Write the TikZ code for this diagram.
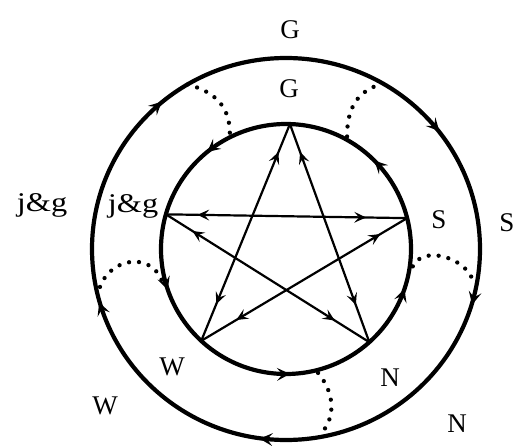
\documentclass[tikz,border=0pt]{standalone}
\usepackage{fontspec}
\setmainfont{Liberation Serif}
\usetikzlibrary{arrows.meta,decorations.markings,calc}
\begin{document}
\begin{tikzpicture}[x=1pt,y=1pt,
  lbl/.style={font=\fontsize{27}{30}\selectfont, inner sep=0pt},
  ring/.style={line width=4.2pt},
  chord/.style={line width=2.2pt},
  dotarc/.style={line width=4.3pt, dash pattern=on 0pt off 10pt, line cap=round},
  twoway/.style={postaction={decorate}, decoration={markings,
     mark=at position 0.18 with {\arrow{Stealth[length=12pt,width=11pt,inset=5pt,line width=0pt,reversed]}},
     mark=at position 0.83 with {\arrow{Stealth[length=12pt,width=11pt,inset=5pt,line width=0pt]}}}},
  innerflow/.style={postaction={decorate}, decoration={markings,
     mark=at position 0.125 with {\arrow{Stealth[length=13pt,width=13pt,inset=5.5pt,line width=0pt]}},
     mark=at position 0.3586 with {\arrow{Stealth[length=13pt,width=13pt,inset=5.5pt,line width=0pt]}},
     mark=at position 0.5528 with {\arrow{Stealth[length=13pt,width=13pt,inset=5.5pt,line width=0pt]}},
     mark=at position 0.755 with {\arrow{Stealth[length=13pt,width=13pt,inset=5.5pt,line width=0pt]}},
     mark=at position 0.9483 with {\arrow{Stealth[length=13pt,width=13pt,inset=5.5pt,line width=0pt]}}}},
  outerflow/.style={postaction={decorate}, decoration={markings,
     mark=at position 0.1156 with {\arrow{Stealth[length=13pt,width=13pt,inset=5.5pt,line width=0pt,reversed]}},
     mark=at position 0.3717 with {\arrow{Stealth[length=13pt,width=13pt,inset=5.5pt,line width=0pt,reversed]}},
     mark=at position 0.5553 with {\arrow{Stealth[length=13pt,width=13pt,inset=5.5pt,line width=0pt,reversed]}},
     mark=at position 0.7389 with {\arrow{Stealth[length=13pt,width=13pt,inset=5.5pt,line width=0pt,reversed]}},
     mark=at position 0.9642 with {\arrow{Stealth[length=13pt,width=13pt,inset=5.5pt,line width=0pt,reversed]}}}},
]
\useasboundingbox[fill=white] (0,0) rectangle (517,-446);

\coordinate (O) at (286,-249);

% rings
\draw[ring,outerflow] ($(O)+(0:194 and 191)$) arc[start angle=0,end angle=360,x radius=194,y radius=191];
\draw[ring,innerflow] ($(O)+(0:125)$) arc[start angle=0,end angle=360,radius=125];

% star vertices on inner ring
\coordinate (G) at ($(O)+(88.2:125)$);
\coordinate (J) at ($(O)+(163.9:125)$);
\coordinate (S) at ($(O)+(14.3:125)$);
\coordinate (W) at ($(O)+(227.3:125)$);
\coordinate (N) at ($(O)+(311.8:125)$);

\draw[chord,twoway] (J) -- (S);
\draw[chord,twoway] (J) -- (N);
\draw[chord,twoway] (G) -- (W);
\draw[chord,twoway] (G) -- (N);
\draw[chord,twoway] (S) -- (W);

% dotted links between rings
\coordinate (o1) at ($(O)+(120.5:194 and 191)$);
\coordinate (i1) at ($(O)+(116:128)$);
\coordinate (o2) at ($(O)+(60:194 and 191)$);
\coordinate (i2) at ($(O)+(61.5:128)$);
\coordinate (o3) at ($(O)+(-10:190 and 187)$);
\coordinate (i3) at ($(O)+(-7.8:128)$);
\coordinate (o4) at ($(O)+(191.7:190 and 187)$);
\coordinate (i4) at ($(O)+(194.7:128)$);
\coordinate (o5) at ($(O)+(280.9:190 and 187)$);
\coordinate (i5) at ($(O)+(284.5:128)$);

\draw[dotarc] (o1) to[out=-15,in=90,looseness=1.1] (i1);
\draw[dotarc] (i2) to[out=90,in=195,looseness=1.1] (o2);
\draw[dotarc] (i3) to[out=65,in=105] (o3);
\draw[dotarc] (o4) to[out=70,in=110,looseness=1.3] (i4);
\draw[dotarc] (i5) to[out=-50,in=50] (o5);

% labels
\node[lbl] (Go) at (290,-30) {G};
\node[lbl] (Gi) at (289,-89) {G};
\node[lbl] (Jo) at (42,-205) {\scalebox{1.2}[1]{j\&g}};
\node[lbl] (Ji) at (133,-206) {\scalebox{1.2}[1]{j\&g}};
\node[lbl] (Si) at (439,-220) {S};
\node[lbl] (So) at (507,-223) {S};
\node[lbl] (Wi) at (172,-367) {W};
\node[lbl] (Wo) at (105,-406) {W};
\node[lbl] (Ni) at (390,-378) {N};
\node[lbl] (No) at (457,-424) {N};
\end{tikzpicture}
\end{document}
